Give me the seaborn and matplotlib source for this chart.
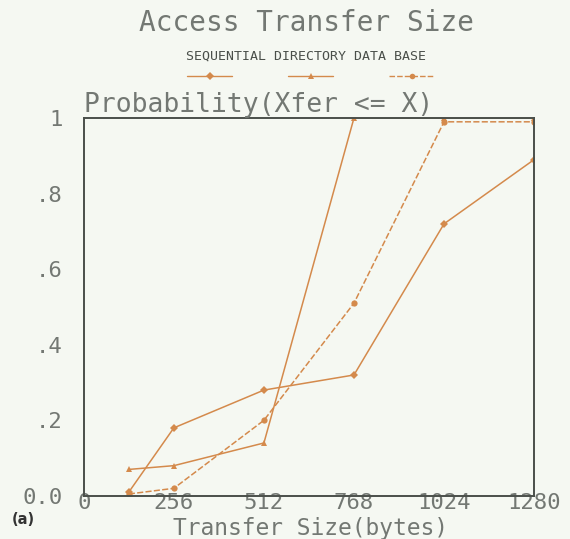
import matplotlib
matplotlib.use("Agg")
import matplotlib.pyplot as plt
import seaborn as sns
import pandas as pd
from matplotlib.ticker import MultipleLocator, FixedLocator

# Transfer sizes (bytes) and cumulative probabilities per access type
sizes = [128, 256, 512, 768, 1024, 1280]
sequential = [0.01, 0.18, 0.28, 0.32, 0.72, 0.89]
directory = [0.07, 0.08, 0.14, 1.00, 1.00, 1.00]
database = [0.005, 0.02, 0.20, 0.51, 0.99, 0.99]
series_names = ["SEQUENTIAL", "DIRECTORY", "DATA BASE"]
x_ticks = [0, 256, 512, 768, 1024, 1280]
y_ticks = [0.0, 0.2, 0.4, 0.6, 0.8, 1.0]
y_labels = ["0.0", ".2", ".4", ".6", ".8", "1"]

sns.set_theme(style="white")
plt.rcParams["font.family"] = ["DejaVu Sans Mono", "DejaVu Sans"]

bg = "#f5f8f2"
orange = "#d48a4c"
axis_col = "#4a4f4a"
text_col = "#737873"

df = pd.DataFrame({
    "size": sizes * 3,
    "prob": sequential + directory + database,
    "kind": [series_names[0]] * 6 + [series_names[1]] * 6 + [series_names[2]] * 6,
})

fig = plt.figure(figsize=(5.7, 5.39), dpi=100, facecolor=bg)
ax = fig.add_axes([0.147, 0.080, 0.790, 0.701])
ax.set_facecolor(bg)

styles = {
    "SEQUENTIAL": dict(marker="D", linestyle="-"),
    "DIRECTORY": dict(marker="^", linestyle="-"),
    "DATA BASE": dict(marker="o", linestyle=(0, (4, 1.5))),
}
for name in series_names:
    sub = df[df["kind"] == name]
    sns.lineplot(data=sub, x="size", y="prob", ax=ax, color=orange,
                 linewidth=1.1, markersize=4.5, markeredgewidth=0,
                 legend=False, **styles[name])

ax.set_xlim(0, 1280)
ax.set_ylim(0, 1.0)
ax.xaxis.set_major_locator(FixedLocator(x_ticks))
ax.xaxis.set_minor_locator(MultipleLocator(128))
ax.yaxis.set_major_locator(FixedLocator(y_ticks))
ax.set_xticklabels([str(v) for v in x_ticks])
ax.set_yticklabels(y_labels)
ax.tick_params(axis="both", which="both", direction="in", colors=axis_col,
               labelcolor=text_col, labelsize=16, width=1)
ax.tick_params(axis="x", which="major", length=7, pad=-2)
ax.tick_params(axis="x", which="minor", length=5)
ax.tick_params(axis="y", which="major", length=5, pad=15)
ax.tick_params(right=False, top=False)
for s in ax.spines.values():
    s.set_color(axis_col)
    s.set_linewidth(1.4)
    s.set_visible(True)
ax.set_xlabel("")
ax.set_ylabel("")

# headings
fig.text(0.537, 0.958, "Access Transfer Size", ha="center", va="center",
         fontsize=20, color=text_col)
fig.text(0.537, 0.896, "SEQUENTIAL DIRECTORY DATA BASE", ha="center",
         va="center", fontsize=9.5, color="#4a4f4a")
ax.text(0.0, 1.0, "Probability(Xfer <= X)", transform=ax.transAxes,
        ha="left", va="bottom", fontsize=19, color=text_col)
fig.text(0.545, 0.020, "Transfer Size(bytes)", ha="center", va="center",
         fontsize=16.5, color=text_col)
fig.text(0.020, 0.036, "(a)", ha="left", va="center", fontsize=10.5,
         fontweight="bold", family="DejaVu Sans", color="#333")

# legend samples beneath the series names
lax = fig.add_axes([0.0, 0.849, 1.0, 0.02])
lax.set_xlim(0, 570)
lax.set_ylim(0, 1)
lax.axis("off")
legend_x = [(187, 232), (288, 333), (389, 434)]
for (x0, x1), name in zip(legend_x, series_names):
    st = styles[name]
    lax.plot([x0, x1], [0.5, 0.5], color=orange, linewidth=1.0,
             linestyle=st["linestyle"])
    lax.plot([(x0 + x1) / 2], [0.5], color=orange, marker=st["marker"],
             markersize=4, markeredgewidth=0)

fig.savefig("out.png", dpi=100, facecolor=bg)
